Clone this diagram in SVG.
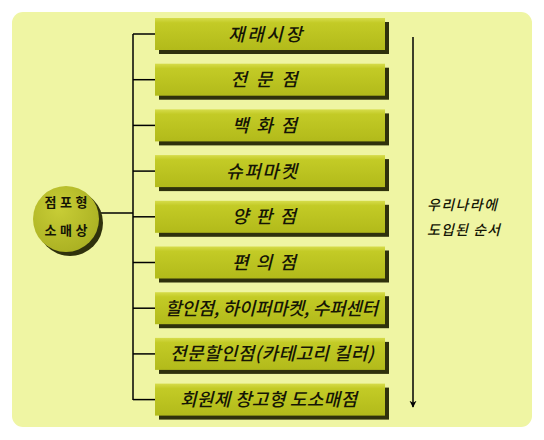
<svg xmlns="http://www.w3.org/2000/svg" width="544" height="440" viewBox="0 0 544 440">
<defs>
<linearGradient id="boxg" x1="0" y1="0" x2="0" y2="1">
<stop offset="0" stop-color="#d6dc4a"/>
<stop offset="0.15" stop-color="#c3cb26"/>
<stop offset="1" stop-color="#b2ba1a"/>
</linearGradient>
<radialGradient id="circg" cx="0.4" cy="0.35" r="0.7">
<stop offset="0" stop-color="#c8cd36"/>
<stop offset="1" stop-color="#aab022"/>
</radialGradient>
<marker id="arr" viewBox="0 0 10 10" refX="9" refY="5" markerWidth="7" markerHeight="9" orient="auto" markerUnits="userSpaceOnUse">
<path d="M0,0 L10,5 L0,10 L3,5 z" fill="#000"/>
</marker>
</defs>
<style>
.box{fill:url(#boxg);}
.sh{fill:#2f310c;}
.bt{font-family:"Noto Sans CJK KR","Noto Sans",sans-serif;font-size:18px;font-style:italic;font-weight:500;fill:#151505;text-anchor:middle;}
.ct{font-family:"Noto Sans CJK KR","Noto Sans",sans-serif;font-size:13px;font-weight:bold;fill:#151505;text-anchor:middle;}
.rt{font-family:"Noto Sans CJK KR","Noto Sans",sans-serif;font-size:14px;font-style:italic;font-weight:500;fill:#151505;}
.ln{stroke:#000;stroke-width:1.5;fill:none;}
</style>
<rect x="12" y="12" width="520" height="415" rx="11" fill="#eff5a3"/>
<g id="connectors">
<line class="ln" x1="133" y1="34" x2="133" y2="400"/>
<line class="ln" x1="133" y1="34" x2="155" y2="34"/>
<line class="ln" x1="133" y1="79.7" x2="155" y2="79.7"/>
<line class="ln" x1="133" y1="125.4" x2="155" y2="125.4"/>
<line class="ln" x1="133" y1="171.1" x2="155" y2="171.1"/>
<line class="ln" x1="133" y1="216.8" x2="155" y2="216.8"/>
<line class="ln" x1="133" y1="262.5" x2="155" y2="262.5"/>
<line class="ln" x1="133" y1="308.2" x2="155" y2="308.2"/>
<line class="ln" x1="133" y1="353.9" x2="155" y2="353.9"/>
<line class="ln" x1="133" y1="399.6" x2="155" y2="399.6"/>
<line class="ln" x1="99" y1="213" x2="133" y2="213"/>
<line class="ln" x1="413" y1="37" x2="413" y2="407" marker-end="url(#arr)"/>
</g>
<g id="root">
<circle cx="70" cy="223" r="33" class="sh"/>
<circle cx="66" cy="219" r="33" fill="url(#circg)"/>
<text class="ct" x="66" y="207" textLength="43" lengthAdjust="spacing">점포형</text>
<text class="ct" x="66" y="235" textLength="43" lengthAdjust="spacing">소매상</text>
</g>
<g id="n1"><rect class="sh" x="159" y="22" width="230" height="32"/><rect class="box" x="155" y="18" width="230" height="32"/><text class="bt" x="265" y="40.5" textLength="74" lengthAdjust="spacing">재래시장</text></g>
<g id="n2"><rect class="sh" x="159" y="67.7" width="230" height="32"/><rect class="box" x="155" y="63.7" width="230" height="32"/><text class="bt" x="264" y="86.2" textLength="67" lengthAdjust="spacing">전 문 점</text></g>
<g id="n3"><rect class="sh" x="159" y="113.4" width="230" height="32"/><rect class="box" x="155" y="109.4" width="230" height="32"/><text class="bt" x="264.5" y="131.9" textLength="65" lengthAdjust="spacing">백 화 점</text></g>
<g id="n4"><rect class="sh" x="159" y="159.1" width="230" height="32"/><rect class="box" x="155" y="155.1" width="230" height="32"/><text class="bt" x="261.5" y="177.6" textLength="71" lengthAdjust="spacing">슈퍼마켓</text></g>
<g id="n5"><rect class="sh" x="159" y="204.8" width="230" height="32"/><rect class="box" x="155" y="200.8" width="230" height="32"/><text class="bt" x="264" y="223.3" textLength="64" lengthAdjust="spacing">양 판 점</text></g>
<g id="n6"><rect class="sh" x="159" y="250.5" width="230" height="32"/><rect class="box" x="155" y="246.5" width="230" height="32"/><text class="bt" x="264" y="269" textLength="64" lengthAdjust="spacing">편 의 점</text></g>
<g id="n7"><rect class="sh" x="159" y="296.2" width="230" height="32"/><rect class="box" x="155" y="292.2" width="230" height="32"/><text class="bt" x="271.5" y="314.7" textLength="213" lengthAdjust="spacing">할인점, 하이퍼마켓, 수퍼센터</text></g>
<g id="n8"><rect class="sh" x="159" y="341.9" width="230" height="32"/><rect class="box" x="155" y="337.9" width="230" height="32"/><text class="bt" x="272" y="360.4" textLength="204" lengthAdjust="spacing">전문할인점(카테고리 킬러)</text></g>
<g id="n9"><rect class="sh" x="159" y="387.6" width="230" height="32"/><rect class="box" x="155" y="383.6" width="230" height="32"/><text class="bt" x="268.5" y="406.1" textLength="177" lengthAdjust="spacing">회원제 창고형 도소매점</text></g>
<g id="note">
<text class="rt" x="427" y="210" textLength="70" lengthAdjust="spacing">우리나라에</text>
<text class="rt" x="427" y="235" textLength="73" lengthAdjust="spacing">도입된 순서</text>
</g>
</svg>
